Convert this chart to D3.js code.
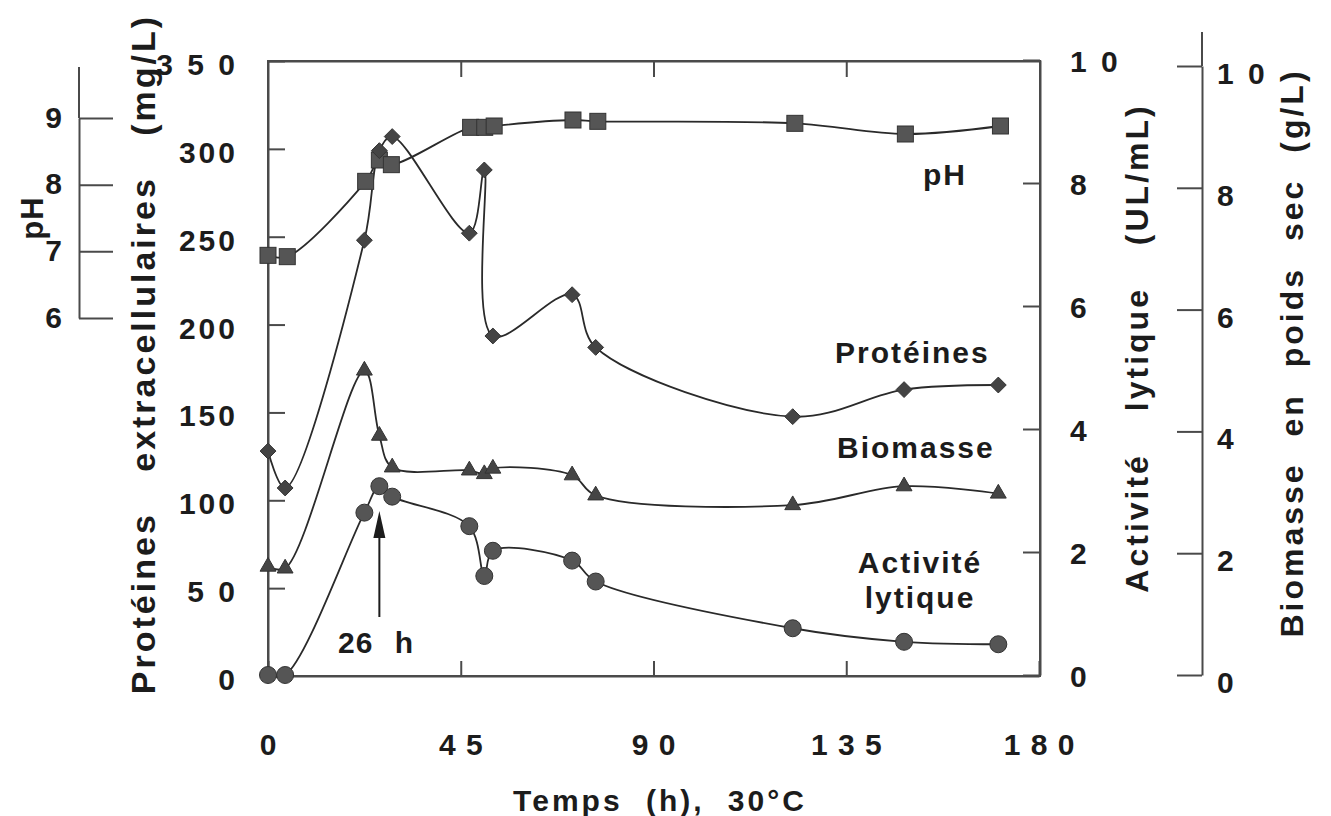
<!DOCTYPE html>
<html><head><meta charset="utf-8">
<script src="https://cdn.jsdelivr.net/npm/d3@7"></script>
<style>
html,body{margin:0;padding:0;background:#fff;}
svg{display:block;font-family:"Liberation Sans",Arial,Helvetica,sans-serif;font-weight:bold;}
</style></head>
<body>
<svg id="c" width="1331" height="816"></svg>
<script>
// ---- data ----
const timeMain = [0, 4, 22.5, 26, 29, 47, 50.5, 52.5, 71, 76.5, 122.5, 148.5, 170.5];
const timePH   = [0, 4.5, 22.8, 26, 28.8, 47.3, 50.6, 52.8, 71.2, 77, 123, 148.8, 171];
const phValues = [6.94, 6.92, 8.05, 8.37, 8.3, 8.86, 8.86, 8.88, 8.97, 8.95, 8.92, 8.76, 8.88];
const proteines = [128, 107, 248, 299, 307, 252, 288, 193.5, 217, 187, 147.6, 163, 165.6];
const biomasse  = [1.78, 1.75, 5.0, 3.93, 3.41, 3.36, 3.30, 3.39, 3.28, 2.95, 2.79, 3.10, 2.98];
const activite  = [0, 0, 2.64, 3.07, 2.90, 2.42, 1.61, 2.02, 1.86, 1.52, 0.76, 0.54, 0.50];

const xTicks = [0, 45, 90, 135, 180];
const xTickLabels = ["0", "4 5", "9 0", "1 3 5", "1 8 0"];
const protTicks = [0, 50, 100, 150, 200, 250, 300, 350];
const protTickLabels = ["0", "5 0", "100", "150", "200", "250", "300", "3 5 0"];
const actTicks = [0, 2, 4, 6, 8, 10];
const actTickLabels = ["0", "2", "4", "6", "8", "1 0"];
const bioTicks = [0, 2, 4, 6, 8, 10];
const bioTickLabels = ["0", "2", "4", "6", "8", "1 0"];
const phTicks = [6, 7, 8, 9];
const phTickLabels = ["6", "7", "8", "9"];

// ---- scales ----
const x = d3.scaleLinear().domain([0, 180]).range([268, 1039]);
const yProt = d3.scaleLinear().domain([0, 350]).range([676, 61]);
const yAct = d3.scaleLinear().domain([0, 10]).range([675, 60]);
const yBio = d3.scaleLinear().domain([0, 10]).range([675, 66]);
const yPH = d3.scaleLinear().domain([6, 9]).range([318, 118]);

const svg = d3.select("#c");
const ink = "#1c1c1c";
const axisCol = "#4a4a4a";

function styleAxis(g, fs, ls) {
  g.selectAll("path.domain").attr("stroke", axisCol).attr("stroke-width", 2);
  g.selectAll(".tick line").attr("stroke", axisCol).attr("stroke-width", 2);
  g.selectAll(".tick text").attr("fill", ink).style("font-size", fs + "px")
    .style("font-weight", "bold").style("letter-spacing", (ls == null ? 3 : ls) + "px")
    .style("font-family", '"Liberation Sans",Arial,sans-serif');
}

// frame
svg.append("rect").attr("x", x(0)).attr("y", yProt(350)).attr("width", x(180) - x(0) + 1)
  .attr("height", yProt(0) - yProt(350)).attr("fill", "none").attr("stroke", axisCol).attr("stroke-width", 2);

// left protein axis
const gL = svg.append("g").attr("transform", `translate(${x(0)},0)`)
  .call(d3.axisLeft(yProt).tickValues(protTicks).tickSizeInner(-17).tickSizeOuter(0).tickPadding(30)
    .tickFormat((d, i) => protTickLabels[i]));
styleAxis(gL, 30, 3);
gL.selectAll(".tick text").attr("dy", "0.45em");

// bottom axis
const gB = svg.append("g").attr("transform", `translate(0,${yProt(0)})`)
  .call(d3.axisBottom(x).tickValues(xTicks).tickSizeInner(-15).tickSizeOuter(0).tickPadding(58)
    .tickFormat((d, i) => xTickLabels[i]));
styleAxis(gB, 30, 1);

// top axis (mirror ticks)
const gT = svg.append("g").attr("transform", `translate(0,${yProt(350)})`)
  .call(d3.axisTop(x).tickValues(xTicks.slice(1, 4)).tickSizeInner(-16).tickSizeOuter(0).tickFormat(""));
styleAxis(gT, 30);

// right activity axis
const gR = svg.append("g").attr("transform", `translate(${x(180)+1},0)`)
  .call(d3.axisRight(yAct).tickValues(actTicks).tickSizeInner(-17).tickSizeOuter(0).tickPadding(30)
    .tickFormat((d, i) => actTickLabels[i]));
styleAxis(gR, 30, 3);
gR.selectAll(".tick text").attr("dy", "0.38em");

// far right biomass axis
const bioX = 1202;
const gBio = svg.append("g").attr("transform", `translate(${bioX},0)`)
  .call(d3.axisRight(yBio).tickValues(bioTicks).tickSizeInner(-25).tickSizeOuter(0).tickPadding(15)
    .tickFormat((d, i) => bioTickLabels[i]));
styleAxis(gBio, 30, 3);
gBio.selectAll(".tick text").attr("dy", "0.58em");
svg.append("line").attr("x1", bioX).attr("x2", bioX).attr("y1", 32).attr("y2", yBio(10))
  .attr("stroke", axisCol).attr("stroke-width", 2);

// pH axis (far left)
const phX = 79;
const gPH = svg.append("g").attr("transform", `translate(${phX},0)`)
  .call(d3.axisLeft(yPH).tickValues(phTicks).tickSizeInner(-34).tickSizeOuter(0).tickPadding(17)
    .tickFormat((d, i) => phTickLabels[i]));
styleAxis(gPH, 30, 0);
gPH.selectAll(".tick text").attr("dy", "0.3em");
svg.append("line").attr("x1", phX).attr("x2", phX).attr("y1", 67).attr("y2", yPH(9))
  .attr("stroke", axisCol).attr("stroke-width", 2);

// ---- titles ----
function vtitle(txt, px, py, fs, ls, ws) {
  svg.append("text").attr("transform", `translate(${px},${py}) rotate(-90)`)
    .attr("text-anchor", "middle").attr("fill", ink)
    .style("font-size", fs + "px").style("letter-spacing", ls + "px").style("word-spacing", ws + "px")
    .text(txt);
}
vtitle("pH", 43, 218, 31, 1, 0);
vtitle("Protéines extracellulaires (mg/L)", 155, 354, 34, 3, 28);
vtitle("Activité lytique (UL/mL)", 1148, 348, 32, 3, 30);
vtitle("Biomasse en poids sec (g/L)", 1303, 353, 32, 3, 14);

svg.append("text").attr("x", 660).attr("y", 811).attr("text-anchor", "middle").attr("fill", ink)
  .style("font-size", "30px").style("letter-spacing", "3px").style("word-spacing", "12px")
  .text("Temps (h), 30°C");

// ---- curves ----
const curve = d3.curveCatmullRom.alpha(0.5);
function drawLine(times, vals, ys) {
  const pts = times.map((t, i) => [x(t), ys(vals[i])]);
  svg.append("path").attr("d", d3.line().curve(curve)(pts))
    .attr("fill", "none").attr("stroke", "#2a2a2a").attr("stroke-width", 1.8);
  return pts;
}
const pPH = drawLine(timePH, phValues, yPH);
const pProt = drawLine(timeMain, proteines, yProt);
const pBio = drawLine(timeMain, biomasse, yBio);
const pAct = drawLine(timeMain, activite, yAct);

const mFill = "#555";
const mStroke = "#333";
// squares (pH)
svg.append("g").selectAll("rect").data(pPH).join("rect")
  .attr("x", d => d[0] - 8).attr("y", d => d[1] - 8).attr("width", 16).attr("height", 16)
  .attr("fill", mFill).attr("stroke", mStroke).attr("stroke-width", 1);
// diamonds (proteines)
svg.append("g").selectAll("path").data(pProt).join("path")
  .attr("transform", d => `translate(${d[0]},${d[1]})`)
  .attr("d", d3.symbol(d3.symbolDiamond2, 160)())
  .attr("fill", "#444").attr("stroke", mStroke).attr("stroke-width", 1);
// triangles (biomasse)
svg.append("g").selectAll("path").data(pBio).join("path")
  .attr("transform", d => `translate(${d[0]},${d[1]})`)
  .attr("d", d3.symbol(d3.symbolTriangle2, 180)())
  .attr("fill", "#454545").attr("stroke", mStroke).attr("stroke-width", 1);
// circles (activite)
svg.append("g").selectAll("circle").data(pAct).join("circle")
  .attr("cx", d => d[0]).attr("cy", d => d[1]).attr("r", 8.5)
  .attr("fill", mFill).attr("stroke", mStroke).attr("stroke-width", 1);

// ---- series labels ----
function lbl(txt, px, py, anchor) {
  svg.append("text").attr("x", px).attr("y", py).attr("text-anchor", anchor || "start").attr("fill", ink)
    .style("font-size", "30px").style("letter-spacing", "2px").text(txt);
}
lbl("pH", 923, 185);
lbl("Protéines", 835, 363);
lbl("Biomasse", 837, 458);
lbl("Activité", 920, 573, "middle");
lbl("lytique", 920, 608, "middle");

// ---- 26 h annotation ----
const arrowT = 26;
const ax = x(arrowT);
svg.append("line").attr("x1", ax).attr("x2", ax).attr("y1", 617).attr("y2", 530)
  .attr("stroke", ink).attr("stroke-width", 2);
svg.append("path").attr("d", `M${ax},511 L${ax-6},538 L${ax+6},538 Z`).attr("fill", ink);
svg.append("text").attr("x", 338).attr("y", 653).attr("fill", ink)
  .style("font-size", "30px").style("letter-spacing", "1px").style("word-spacing", "12px").text("26 h");
</script>
</body></html>
